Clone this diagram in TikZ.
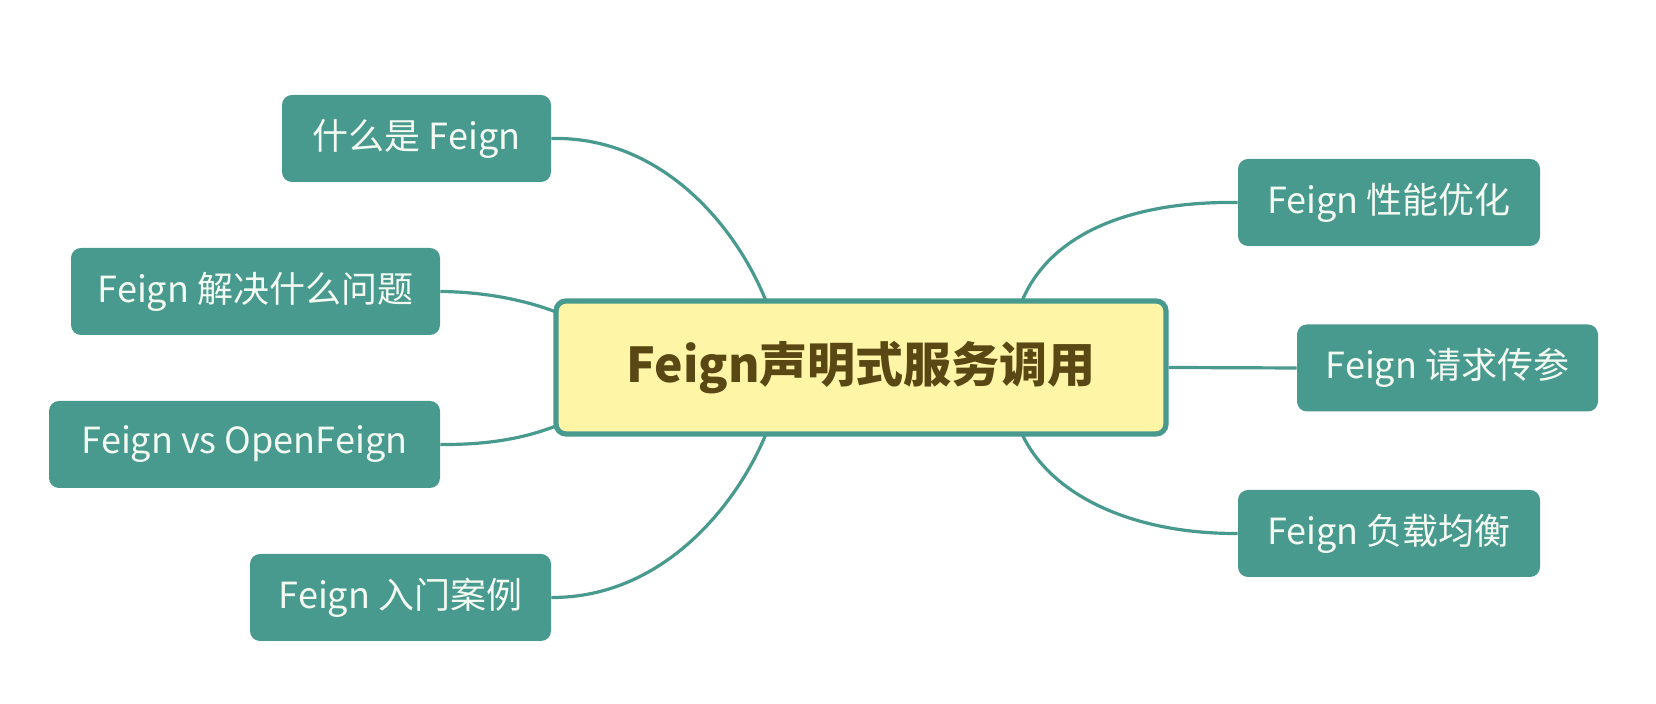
\documentclass[tikz,border=0pt]{standalone}
\usepackage{fontspec}
\setmainfont{Noto Sans CJK SC}

\definecolor{teal}{HTML}{48998E}
\definecolor{paleyellow}{HTML}{FFF5A6}
\definecolor{olivetext}{HTML}{5A4814}
\definecolor{lighttext}{HTML}{F2FAF2}

\tikzset{
  topic/.style={draw=teal, line width=2.6pt, fill=paleyellow, rounded corners=5pt,
    minimum width=305pt, minimum height=66.5pt, text=olivetext,
    font=\fontsize{24}{28}\selectfont\bfseries},
  branch/.style={fill=teal, rounded corners=5pt, minimum height=43.5pt,
    text=lighttext, font=\fontsize{18}{21}\selectfont},
  link/.style={draw=teal, line width=1.6pt}
}

\begin{document}
\begin{tikzpicture}[x=0.5pt,y=0.5pt]
      \useasboundingbox (0,0) rectangle (1656,704);

      % Draw the central topic
      \node[topic] (main) at (861,336.5) {Feign声明式服务调用};

      % Draw the left branches
      \node[branch, minimum width=134.5pt] (what) at (416.5,565.5) {什么是 Feign};
      \node[branch, minimum width=184.5pt] (solve) at (255.5,412.5) {Feign 解决什么问题};
      \node[branch, minimum width=195.5pt] (versus) at (244.5,259.5) {Feign vs OpenFeign};
      \node[branch, minimum width=150.5pt] (intro) at (400.5,106.5) {Feign 入门案例};

      % Draw the right branches
      \node[branch, minimum width=151pt] (tuning) at (1389,501.5) {Feign 性能优化};
      \node[branch, minimum width=150.5pt] (params) at (1447.5,336) {Feign 请求传参};
      \node[branch, minimum width=151pt] (balance) at (1389,170.5) {Feign 负载均衡};

      % Points on the border of the central topic
      \coordinate (mtl) at (766,403);
      \coordinate (mwt) at (556,392);
      \coordinate (mwb) at (556,278);
      \coordinate (mbl) at (766,270);
      \coordinate (mtr) at (1022,403);
      \coordinate (mbr) at (1022,270);

      % Draw the connectors
      \draw[link] (what.east) .. controls (660,568) and (735,480) .. (mtl);
      \draw[link] (solve.east) .. controls (490,412) and (530,402) .. (mwt);
      \draw[link] (versus.east) .. controls (495,259) and (530,268) .. (mwb);
      \draw[link] (intro.east) .. controls (660,106) and (735,195) .. (mbl);
      \draw[link] (tuning.west) .. controls (1130,503) and (1050,470) .. (mtr);
      \draw[link] (params.west) -- (main.east);
      \draw[link] (balance.west) .. controls (1130,170) and (1050,210) .. (mbr);

\end{tikzpicture}
\end{document}
